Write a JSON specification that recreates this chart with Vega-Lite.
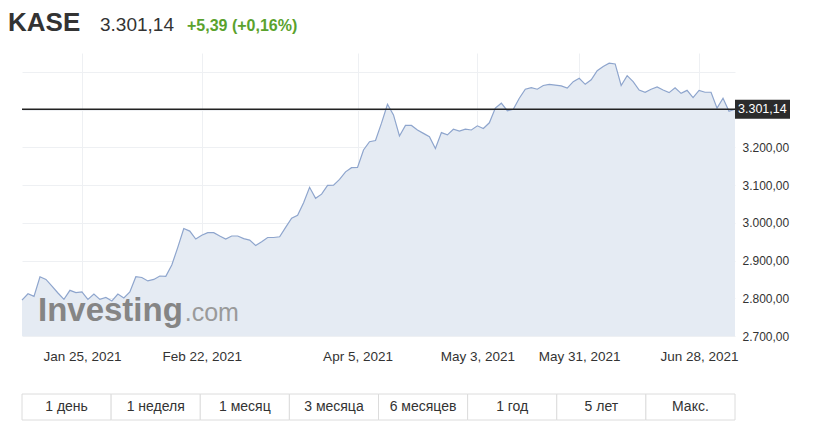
{
  "$schema": "https://vega.github.io/schema/vega-lite/v6.json",
  "background": "white",
  "padding": {"left": 8, "top": 10, "right": 0, "bottom": 0},
  "bounds": "flush",
  "spacing": 0,
  "config": {
    "view": {"stroke": null},
    "font": "Liberation Sans",
    "locale": {"number": {"decimal": ",", "thousands": ".", "grouping": [3], "currency": ["", ""]}}
  },
  "datasets": {
    "kase": [
      {"date": "2021-01-11", "close": 2795}, {"date": "2021-01-12", "close": 2812}, {"date": "2021-01-13", "close": 2805},
      {"date": "2021-01-14", "close": 2857}, {"date": "2021-01-15", "close": 2850}, {"date": "2021-01-18", "close": 2832},
      {"date": "2021-01-19", "close": 2814}, {"date": "2021-01-20", "close": 2797}, {"date": "2021-01-21", "close": 2821},
      {"date": "2021-01-22", "close": 2815}, {"date": "2021-01-25", "close": 2817}, {"date": "2021-01-26", "close": 2797},
      {"date": "2021-01-27", "close": 2811}, {"date": "2021-01-28", "close": 2797}, {"date": "2021-01-29", "close": 2802},
      {"date": "2021-02-01", "close": 2793}, {"date": "2021-02-02", "close": 2811}, {"date": "2021-02-03", "close": 2801},
      {"date": "2021-02-04", "close": 2817}, {"date": "2021-02-05", "close": 2857}, {"date": "2021-02-08", "close": 2855},
      {"date": "2021-02-09", "close": 2846}, {"date": "2021-02-10", "close": 2850}, {"date": "2021-02-11", "close": 2859},
      {"date": "2021-02-12", "close": 2858}, {"date": "2021-02-15", "close": 2888}, {"date": "2021-02-16", "close": 2935},
      {"date": "2021-02-17", "close": 2985}, {"date": "2021-02-18", "close": 2978}, {"date": "2021-02-19", "close": 2957},
      {"date": "2021-02-22", "close": 2967}, {"date": "2021-02-23", "close": 2974}, {"date": "2021-02-24", "close": 2974},
      {"date": "2021-02-25", "close": 2965}, {"date": "2021-02-26", "close": 2957}, {"date": "2021-03-01", "close": 2965},
      {"date": "2021-03-02", "close": 2965}, {"date": "2021-03-03", "close": 2958}, {"date": "2021-03-04", "close": 2954},
      {"date": "2021-03-05", "close": 2940}, {"date": "2021-03-09", "close": 2950}, {"date": "2021-03-10", "close": 2961},
      {"date": "2021-03-11", "close": 2961}, {"date": "2021-03-12", "close": 2963}, {"date": "2021-03-15", "close": 2988},
      {"date": "2021-03-16", "close": 3012}, {"date": "2021-03-17", "close": 3020}, {"date": "2021-03-18", "close": 3053},
      {"date": "2021-03-19", "close": 3094}, {"date": "2021-03-25", "close": 3065}, {"date": "2021-03-26", "close": 3076},
      {"date": "2021-03-29", "close": 3099}, {"date": "2021-03-30", "close": 3100}, {"date": "2021-03-31", "close": 3115},
      {"date": "2021-04-01", "close": 3135}, {"date": "2021-04-02", "close": 3146}, {"date": "2021-04-05", "close": 3147},
      {"date": "2021-04-06", "close": 3193}, {"date": "2021-04-07", "close": 3215}, {"date": "2021-04-08", "close": 3218},
      {"date": "2021-04-09", "close": 3264}, {"date": "2021-04-12", "close": 3314}, {"date": "2021-04-13", "close": 3286},
      {"date": "2021-04-14", "close": 3230}, {"date": "2021-04-15", "close": 3258}, {"date": "2021-04-16", "close": 3258},
      {"date": "2021-04-19", "close": 3246}, {"date": "2021-04-20", "close": 3237}, {"date": "2021-04-21", "close": 3228},
      {"date": "2021-04-22", "close": 3197}, {"date": "2021-04-23", "close": 3239}, {"date": "2021-04-26", "close": 3233},
      {"date": "2021-04-27", "close": 3248}, {"date": "2021-04-28", "close": 3243}, {"date": "2021-04-29", "close": 3248},
      {"date": "2021-04-30", "close": 3246}, {"date": "2021-05-04", "close": 3257}, {"date": "2021-05-05", "close": 3250},
      {"date": "2021-05-06", "close": 3265}, {"date": "2021-05-11", "close": 3304}, {"date": "2021-05-12", "close": 3317},
      {"date": "2021-05-13", "close": 3297}, {"date": "2021-05-14", "close": 3301}, {"date": "2021-05-17", "close": 3330},
      {"date": "2021-05-18", "close": 3354}, {"date": "2021-05-19", "close": 3358}, {"date": "2021-05-20", "close": 3354},
      {"date": "2021-05-21", "close": 3364}, {"date": "2021-05-24", "close": 3367}, {"date": "2021-05-25", "close": 3365},
      {"date": "2021-05-26", "close": 3363}, {"date": "2021-05-27", "close": 3357}, {"date": "2021-05-28", "close": 3374},
      {"date": "2021-05-31", "close": 3383}, {"date": "2021-06-01", "close": 3367}, {"date": "2021-06-02", "close": 3379},
      {"date": "2021-06-03", "close": 3403}, {"date": "2021-06-04", "close": 3414}, {"date": "2021-06-07", "close": 3423},
      {"date": "2021-06-08", "close": 3421}, {"date": "2021-06-09", "close": 3364}, {"date": "2021-06-10", "close": 3390},
      {"date": "2021-06-11", "close": 3374}, {"date": "2021-06-14", "close": 3352}, {"date": "2021-06-15", "close": 3346},
      {"date": "2021-06-16", "close": 3354}, {"date": "2021-06-17", "close": 3360}, {"date": "2021-06-18", "close": 3352},
      {"date": "2021-06-21", "close": 3345}, {"date": "2021-06-22", "close": 3358}, {"date": "2021-06-23", "close": 3343},
      {"date": "2021-06-24", "close": 3351}, {"date": "2021-06-25", "close": 3332}, {"date": "2021-06-28", "close": 3351},
      {"date": "2021-06-29", "close": 3346}, {"date": "2021-06-30", "close": 3346}, {"date": "2021-07-01", "close": 3304},
      {"date": "2021-07-02", "close": 3330}, {"date": "2021-07-05", "close": 3295.75}, {"date": "2021-07-07", "close": 3301.14}
    ],
    "buttons": [
      {"label": "1 день"}, {"label": "1 неделя"}, {"label": "1 месяц"}, {"label": "3 месяца"},
      {"label": "6 месяцев"}, {"label": "1 год"}, {"label": "5 лет"}, {"label": "Макс."}
    ]
  },
  "vconcat": [
    {
      "hconcat": [
        {"width": 78, "height": 1, "data": {"values": []}, "mark": "point",
         "title": {"text": "KASE", "fontSize": 26, "fontWeight": "bold", "color": "#333333", "anchor": "start", "dx": -14, "offset": 0, "dy": 4, "baseline": "alphabetic"}},
        {"width": 87, "height": 1, "data": {"values": []}, "mark": "point",
         "title": {"text": "3.301,14", "fontSize": 19, "fontWeight": "normal", "color": "#333333", "anchor": "start", "offset": 0, "dy": -3, "baseline": "alphabetic"}},
        {"width": 200, "height": 1, "data": {"values": []}, "mark": "point",
         "title": {"text": "+5,39 (+0,16%)", "fontSize": 16, "fontWeight": "bold", "color": "#5aa22d", "anchor": "start", "offset": 0, "dy": -6, "baseline": "alphabetic"}}
      ],
      "spacing": 0,
      "bounds": "flush"
    },
    {
      "vconcat": [
        {
          "width": 713,
          "height": 283,
          "data": {"name": "kase"},
          "layer": [
            {
              "mark": {"type": "area", "color": "#e5ebf3", "clip": true},
              "encoding": {
                "x": {"field": "date", "type": "ordinal", "scale": {"type": "point", "padding": 0},
                      "axis": {"values": ["2021-01-25", "2021-02-22", "2021-04-05", "2021-05-04", "2021-05-31", "2021-06-28"],
                               "labelExpr": "datum.value == '2021-05-04' ? 'May 3, 2021' : utcFormat(toDate(datum.value), '%b %-d, %Y')",
                               "labelAngle": 0, "grid": true, "gridColor": "#eef0f3", "ticks": false, "domain": false,
                               "labelPadding": 13, "labelFontSize": 13.5, "labelColor": "#333333", "title": null, "labelOverlap": false}},
                "y": {"field": "close", "type": "quantitative", "scale": {"domain": [2700, 3450], "zero": false, "nice": false},
                      "axis": {"orient": "right", "values": [2700, 2800, 2900, 3000, 3100, 3200, 3300, 3400], "format": ",.2f",
                               "labelExpr": "datum.value > 3250 ? '' : datum.label",
                               "grid": true, "gridColor": "#eef0f3", "ticks": false, "domain": false,
                               "labelPadding": 7, "labelFontSize": 12, "labelColor": "#333333", "title": null}}
              }
            },
            {
              "transform": [{"filter": "datum.date == '2021-01-14'"}],
              "mark": {"type": "text", "text": "Investing", "fontSize": 33, "fontWeight": "bold", "color": "#858585", "align": "left", "baseline": "alphabetic", "dx": -2},
              "encoding": {"x": {"field": "date", "type": "ordinal"}, "y": {"datum": 2740}}
            },
            {
              "transform": [{"filter": "datum.date == '2021-02-17'"}],
              "mark": {"type": "text", "text": ".com", "fontSize": 25, "color": "#9a9a9a", "align": "left", "baseline": "alphabetic", "dx": 1},
              "encoding": {"x": {"field": "date", "type": "ordinal"}, "y": {"datum": 2740}}
            },
            {
              "mark": {"type": "line", "color": "#8ea5cd", "strokeWidth": 1.2},
              "encoding": {"x": {"field": "date", "type": "ordinal"}, "y": {"field": "close", "type": "quantitative"}}
            },
            {
              "transform": [{"filter": "datum.date == '2021-07-07'"}],
              "mark": {"type": "rule", "color": "#222222", "strokeWidth": 1.5},
              "encoding": {"y": {"field": "close", "type": "quantitative"}}
            },
            {
              "transform": [{"filter": "datum.date == '2021-07-07'"}],
              "mark": {"type": "point", "shape": "M0,-0.345L2,-0.345L2,0.345L0,0.345Z", "size": 3025, "filled": true, "color": "#2b2b2b", "opacity": 1, "clip": false},
              "encoding": {"x": {"field": "date", "type": "ordinal"}, "y": {"field": "close", "type": "quantitative"}}
            },
            {
              "transform": [{"filter": "datum.date == '2021-07-07'"}],
              "mark": {"type": "text", "color": "white", "fontSize": 12.5, "align": "left", "baseline": "middle", "dx": 3},
              "encoding": {"x": {"field": "date", "type": "ordinal"}, "y": {"field": "close", "type": "quantitative"},
                           "text": {"field": "close", "type": "quantitative", "format": ",.2f"}}
            }
          ]
        },
        {
          "width": 713,
          "height": 26,
          "data": {"name": "buttons"},
          "encoding": {"x": {"field": "label", "type": "nominal", "sort": null, "scale": {"paddingInner": 0, "paddingOuter": 0}, "axis": null}},
          "layer": [
            {"mark": {"type": "rect", "fill": "white", "stroke": "#dcdcdc", "strokeWidth": 1}},
            {"mark": {"type": "text", "fontSize": 14, "color": "#333333"}, "encoding": {"text": {"field": "label"}}}
          ]
        }
      ],
      "spacing": 58,
      "bounds": "flush"
    }
  ]
}
